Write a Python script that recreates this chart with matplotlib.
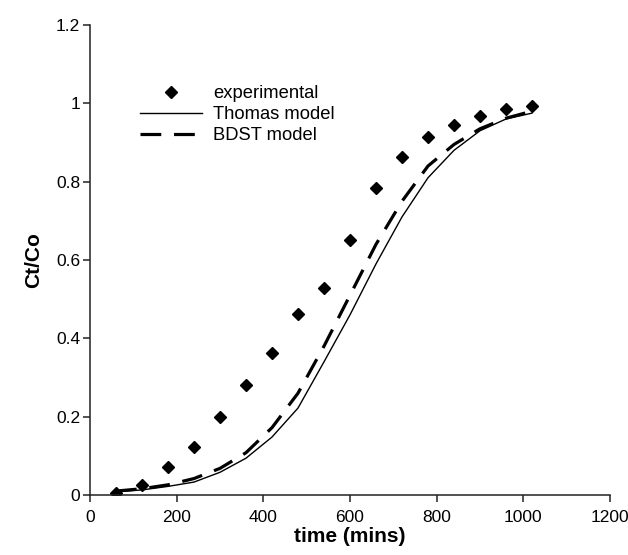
import matplotlib
matplotlib.use('Agg')
import matplotlib.pyplot as plt

plt.rcParams['font.family'] = ['Liberation Sans', 'DejaVu Sans']

# time (mins)
time = [60, 120, 180, 240, 300, 360, 420, 480, 540, 600, 660, 720, 780, 840, 900, 960, 1020]
experimental = [0.005, 0.026, 0.071, 0.123, 0.199, 0.281, 0.363, 0.462, 0.528, 0.651, 0.784,
                0.863, 0.914, 0.945, 0.968, 0.985, 0.993]
thomas = [0.008, 0.013, 0.022, 0.033, 0.058, 0.094, 0.148, 0.222, 0.34, 0.46, 0.59,
          0.71, 0.81, 0.88, 0.93, 0.96, 0.975]
bdst = [0.01, 0.016, 0.026, 0.042, 0.068, 0.108, 0.172, 0.26, 0.38, 0.51, 0.64,
        0.75, 0.84, 0.895, 0.935, 0.962, 0.98]

fig = plt.figure(figsize=(6.28, 5.55), dpi=100)
ax = fig.add_axes([90 / 628, 60 / 555, 520 / 628, 470 / 555])

ax.plot(time, experimental, linestyle='none', marker='D', markersize=6.5,
        color='black', label='experimental')
ax.plot(time, thomas, color='black', linewidth=1.0, label='Thomas model')
ax.plot(time, bdst, color='black', linewidth=2.3, dashes=(6.5, 4), label='BDST model')

ax.set_xlim(0, 1200)
ax.set_ylim(0, 1.2)
ax.set_xticks([0, 200, 400, 600, 800, 1000, 1200])
ax.set_yticks([0, 0.2, 0.4, 0.6, 0.8, 1.0, 1.2])
ax.set_yticklabels(['0', '0.2', '0.4', '0.6', '0.8', '1', '1.2'])

for s in ['top', 'right']:
    ax.spines[s].set_visible(False)
for s in ['left', 'bottom']:
    ax.spines[s].set_linewidth(1.1)
    ax.spines[s].set_color('#222222')
ax.tick_params(direction='out', length=5, width=1.1, color='#222222', labelsize=12.5)
ax.tick_params(axis='x', pad=6)
ax.tick_params(axis='y', pad=2)

ax.set_xlabel('time (mins)', fontsize=15, fontweight='bold', labelpad=1)
ax.set_ylabel('Ct/Co', fontsize=15, fontweight='bold', labelpad=9)

ax.legend(loc='upper left', bbox_to_anchor=(0.096, 0.872), frameon=False, fontsize=13.2,
          handlelength=3.4, handletextpad=0.6, labelspacing=0.22, borderpad=0,
          borderaxespad=0)

fig.savefig('out.png', dpi=100)
